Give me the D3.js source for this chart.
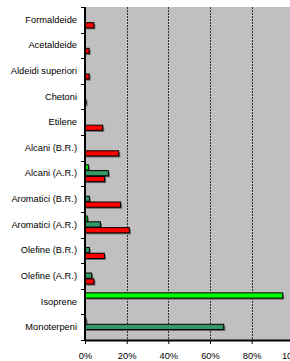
<!DOCTYPE html>
<html lang="it">
  <head>
    <meta charset="UTF-8" />
    <title>Chart</title>
    <style>
      body {
        margin: 0;
        background: #fff;
      }
      svg {
        display: block;
        overflow: hidden;
      }
      text {
        font-family: "Liberation Sans", Arial, sans-serif;
        font-size: 9.3px;
        fill: #000;
      }
    </style>
    <script src="https://cdn.jsdelivr.net/npm/d3@7"></script>
  </head>
  <body>
    <div class="chart-box"></div>
    <script>
      const categories = [
        "Formaldeide",
        "Acetaldeide",
        "Aldeidi superiori",
        "Chetoni",
        "Etilene",
        "Alcani (B.R.)",
        "Alcani (A.R.)",
        "Aromatici (B.R.)",
        "Aromatici (A.R.)",
        "Olefine (B.R.)",
        "Olefine (A.R.)",
        "Isoprene",
        "Monoterpeni",
      ];
      const seriesNames = ["s1", "s2", "s3"];
      const seriesColors = ["#00ff00", "#339966", "#ff0000"];
      // values in %
      const s1Values = [0, 0, 0, 0, 0, 0, 1.6, 0, 1.1, 0, 0, 94.9, 0.5];
      const s2Values = [0, 0, 0, 0, 0, 0, 11.2, 2.1, 7.4, 2.1, 3.2, 0, 66.6];
      const s3Values = [4.3, 2.0, 2.0, 0.5, 8.5, 16.2, 9.4, 17.1, 21.3, 9.3, 4.3, 0, 0];
      const xTicks = [0, 20, 40, 60, 80, 100];

      function init() {
        const W = 290,
          H = 361;
        const margin = { top: 7, left: 85 };
        const width = 208.3,
          height = 333;

        const seriesValues = [s1Values, s2Values, s3Values];
        const data = [];
        categories.forEach((c, i) => {
          seriesNames.forEach((s, j) => {
            const v = seriesValues[j][i];
            if (v > 0) data.push({ cat: c, series: s, val: v, color: seriesColors[j] });
          });
        });

        const svg = d3
          .select(".chart-box")
          .append("svg")
          .attr("width", W)
          .attr("height", H);

        const x = d3.scaleLinear().domain([0, 100]).range([0, width]);
        const y0 = d3.scaleBand().domain(categories).range([0, height]).padding(0);
        const gap = y0.bandwidth() * 0.16;
        const y1 = d3
          .scaleBand()
          .domain(seriesNames)
          .range([gap, y0.bandwidth() - gap])
          .padding(0);

        const g = svg
          .append("g")
          .attr("transform", "translate(" + margin.left + "," + margin.top + ")");

        // plot area
        g.append("rect")
          .attr("width", width)
          .attr("height", height)
          .attr("fill", "#c0c0c0");

        // gridlines
        g.selectAll(".grid")
          .data(xTicks.slice(1))
          .enter()
          .append("line")
          .attr("x1", (d) => Math.round(x(d)) + 0.5)
          .attr("x2", (d) => Math.round(x(d)) + 0.5)
          .attr("y1", 0)
          .attr("y2", height)
          .attr("stroke", "#333")
          .attr("stroke-width", 1)
          .attr("stroke-dasharray", "2,1");

        // bars (with shadow)
        const bars = g
          .selectAll(".bar")
          .data(data)
          .enter()
          .append("g")
          .attr("transform", (d) => "translate(0," + (y0(d.cat) + y1(d.series)) + ")");

        bars
          .append("rect")
          .attr("x", 1.5)
          .attr("y", 1.5)
          .attr("width", (d) => Math.max(x(d.val), 1))
          .attr("height", y1.bandwidth() - 0.6)
          .attr("fill", "#666");

        bars
          .append("rect")
          .attr("x", 0)
          .attr("y", 0)
          .attr("width", (d) => Math.max(x(d.val), 1))
          .attr("height", y1.bandwidth() - 0.6)
          .attr("fill", (d) => d.color)
          .attr("stroke", "#000")
          .attr("stroke-width", 1);

        // left axis
        const yAxis = g
          .append("g")
          .call(
            d3
              .axisLeft(y0)
              .tickSize(0)
              .tickPadding(8)
          );
        yAxis.select(".domain").remove();
        yAxis.selectAll("text").attr("font-size", "9.3px").attr("font-family", null);

        // category boundary ticks
        g.selectAll(".ytick")
          .data(d3.range(categories.length + 1))
          .enter()
          .append("line")
          .attr("x1", -4)
          .attr("x2", 0)
          .attr("y1", (d) => Math.round((d * height) / categories.length) + 0.5)
          .attr("y2", (d) => Math.round((d * height) / categories.length) + 0.5)
          .attr("stroke", "#000");

        g.append("line")
          .attr("x1", 0)
          .attr("x2", 0)
          .attr("y1", 0)
          .attr("y2", height + 1)
          .attr("stroke", "#000")
          .attr("stroke-width", 2);

        // bottom axis
        const xAxis = g
          .append("g")
          .attr("transform", "translate(0," + height + ")")
          .call(
            d3
              .axisBottom(x)
              .tickValues(xTicks)
              .tickFormat((d) => d + "%")
              .tickSizeInner(4)
              .tickSizeOuter(0)
              .tickPadding(8)
          );
        xAxis.select(".domain").attr("stroke-width", 2);
        xAxis.selectAll("text").attr("font-size", "9.3px").attr("font-family", null);
      }

      init();
    </script>
  </body>
</html>
